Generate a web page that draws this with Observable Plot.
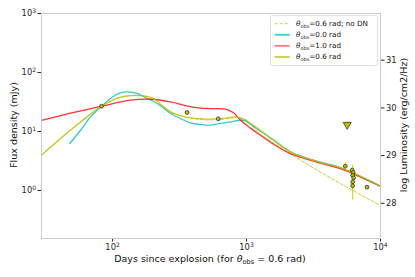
<!DOCTYPE html>
<html>
<head>
<meta charset="utf-8">
<script src="https://cdn.jsdelivr.net/npm/d3@7"></script>
<script src="https://cdn.jsdelivr.net/npm/@observablehq/plot@0.6"></script>
<style>
  html, body { margin: 0; padding: 0; background: white; }
</style>
</head>
<body>
<div id="chart"></div>
<script>
// ---- Model curves (days since explosion, flux density in mJy) ----
const noDnDays = [29.5, 40.9, 57.7, 82.8, 114.7, 161.7, 202, 228, 271, 321, 382, 454, 539, 640, 760, 842, 984, 1071, 1271, 1510, 2530, 5025, 10000];
const noDnFlux = [3.97, 7.61, 14.5, 26.8, 38.1, 40.7, 36.3, 29.0, 21.5, 18.5, 16.8, 16.0, 15.7, 16.0, 16.8, 17.3, 15.3, 13.3, 9.0, 6.85, 3.26, 1.31, 0.557];

const cyanDays = [48, 57.7, 68.5, 82.8, 96.6, 114.7, 128.7, 152.8, 181.6, 215.8, 271, 321, 382, 454, 539, 640, 760, 903, 984, 1071, 1271, 1510, 2130, 3565, 5025, 10000];
const cyanFlux = [6.26, 10.5, 17.7, 26.8, 36.3, 45.1, 46.9, 44.1, 36.3, 29.8, 20.2, 16.6, 14.0, 13.1, 12.8, 13.7, 14.5, 15.5, 15.1, 13.3, 10.1, 7.85, 4.54, 3.02, 2.45, 1.19];

const redDays = [29.5, 48.6, 82.8, 136, 192, 271, 363, 454, 540, 697, 800, 903, 1071, 1271, 1510, 2130, 3565, 5025, 10000];
const redFlux = [15.5, 20.4, 26.8, 33.9, 35.2, 31.7, 26.8, 24.8, 24.5, 23.9, 20.8, 15.5, 11.4, 8.65, 6.59, 4.2, 2.9, 2.34, 1.17];

const yelDays = [29.5, 40.9, 57.7, 82.8, 114.7, 161.7, 202, 228, 271, 321, 382, 454, 539, 640, 760, 842, 984, 1071, 1271, 1510, 2130, 3565, 5025, 10000];
const yelFlux = [3.97, 7.61, 14.5, 26.8, 38.1, 40.7, 36.3, 29.0, 21.5, 18.5, 17.0, 16.5, 16.2, 16.5, 17.3, 17.7, 15.8, 13.8, 10.5, 7.70, 4.46, 2.98, 2.43, 1.18];

// ---- Observations ----
const obsDays  = [82.8, 360, 615, 5460, 6150, 6250, 6200, 6300, 6200, 6200, 7925];
const obsFlux  = [26.8, 21.0, 16.4, 2.58, 2.21, 2.02, 1.82, 1.64, 1.40, 1.20, 1.14];
const obsLo    = [26.8, 21.0, 16.4, 2.21, 2.00, 1.80, 1.50, 1.40, 0.685, 1.00, 1.14];
const obsHi    = [26.8, 21.0, 16.4, 2.98, 2.45, 2.25, 2.68, 1.90, 2.10, 1.45, 1.14];
const limDays  = [5640];
const limFlux  = [12.6];

// ---- Axis ticks ----
const xTicks = [100, 1000, 10000];
const yTicks = [1, 10, 100, 1000];
const lumTicks = [28, 29, 30, 31];
// luminosity axis: log10(F) = LUM_A + LUM_B * (L - 30)
const LUM_A = 1.40, LUM_B = 0.8085;

const labels = ["θobs=0.6 rad; no DN", "θobs=0.0 rad", "θobs=1.0 rad", "θobs=0.6 rad"];
const colors = {noDn: "#bfbf00", cyan: "#00bfbf", red: "#ff0000", yel: "#bfbf00"};

const toRows = (days, flux) => days.map((d, i) => ({day: d, flux: flux[i]}));
const noDn = toRows(noDnDays, noDnFlux);
const cyan = toRows(cyanDays, cyanFlux);
const red = toRows(redDays, redFlux);
const yel = toRows(yelDays, yelFlux);
const obs = obsDays.map((d, i) => ({day: d, flux: obsFlux[i], lo: obsLo[i], hi: obsHi[i]}));
const lims = limDays.map((d, i) => ({day: d, flux: limFlux[i]}));

// tick labels as "10^n", turned into real superscripts after rendering
const fmtPow = d => "10^" + Math.round(Math.log10(d));
const lumAxis = lumTicks.map(L => ({flux: Math.pow(10, LUM_A + LUM_B * (L - 30)), label: String(L)}));

const triDown = {
  draw(ctx, size) {
    const r = Math.sqrt(size / Math.PI);
    ctx.moveTo(-r, -0.8 * r);
    ctx.lineTo(r, -0.8 * r);
    ctx.lineTo(0, 0.95 * r);
    ctx.closePath();
  }
};

const lineOpts = (stroke, extra = {}) => ({x: "day", y: "flux", stroke, strokeOpacity: 0.8, strokeWidth: 1.3, curve: "catmull-rom", ...extra});

const chart = Plot.plot({
  width: 415,
  height: 277,
  marginLeft: 41,
  marginRight: 35,
  marginTop: 13,
  marginBottom: 39,
  style: {fontFamily: "DejaVu Sans", fontSize: "8.3px", color: "#262626", background: "white", overflow: "visible"},
  x: {type: "log", domain: [29.5, 10000]},
  y: {type: "log", domain: [0.1535, 1000]},
  marks: [
    Plot.axisX(xTicks, {tickFormat: fmtPow, tickSize: 3.5, tickPadding: 2, label: null}),
    Plot.axisY(yTicks, {tickFormat: fmtPow, tickSize: 3.5, tickPadding: 2, label: null}),
    Plot.axisY(lumAxis, {y: "flux", text: "label", anchor: "right", tickSize: 3.5, tickPadding: 2, label: null}),
    Plot.line(noDn, lineOpts(colors.noDn, {strokeDasharray: "3,2", strokeWidth: 1})),
    Plot.line(cyan, lineOpts(colors.cyan)),
    Plot.line(red, lineOpts(colors.red)),
    Plot.line(yel, lineOpts(colors.yel)),
    Plot.ruleX(obs, {x: "day", y1: "lo", y2: "hi", stroke: "#d0d000", strokeWidth: 1}),
    Plot.dot(obs, {x: "day", y: "flux", r: 1.9, fill: "#bfbf00", stroke: "#333", strokeWidth: 0.8}),
    Plot.dot(lims, {x: "day", y: "flux", r: 4, symbol: triDown, fill: "#bfbf00", stroke: "#333", strokeWidth: 0.8}),
    Plot.frame({stroke: "#cccccc"})
  ]
});

document.getElementById("chart").appendChild(chart);

const svg = d3.select(chart);
const FONT = "DejaVu Sans";

// ---- superscripts in the power-of-ten tick labels ----
svg.selectAll("text").each(function () {
  const t = d3.select(this);
  const s = this.textContent;
  const m = /^10\^(-?\d+)$/.exec(s);
  if (!m) return;
  const node = this.querySelector("tspan") ? d3.select(this.querySelector("tspan")) : t;
  node.text(null);
  node.append("tspan").text("10");
  node.append("tspan").attr("dy", "-0.45em").attr("font-size", "6px").text(m[1]);
});

// ---- Axis titles and legend (SVG text with subscripts) ----
function thetaText(sel, rest, size) {
  sel.append("tspan").attr("font-style", "italic").text("θ");
  sel.append("tspan").attr("dy", size * 0.22).attr("font-size", size * 0.7).text("obs");
  sel.append("tspan").attr("dy", -size * 0.22).text(rest);
}

const xl = svg.append("text")
  .attr("x", 210).attr("y", 262)
  .attr("text-anchor", "middle")
  .attr("font-family", FONT).attr("font-size", 9.5).attr("fill", "#111");
xl.append("tspan").text("Days since explosion (for ");
thetaText(xl, " = 0.6 rad)", 9.5);

svg.append("text")
  .attr("transform", "translate(17,125) rotate(-90)")
  .attr("text-anchor", "middle")
  .attr("font-family", FONT).attr("font-size", 9.5).attr("fill", "#111")
  .text("Flux density (mJy)");

svg.append("text")
  .attr("transform", "translate(407,125) rotate(-90)")
  .attr("text-anchor", "middle")
  .attr("font-family", FONT).attr("font-size", 9.5).attr("fill", "#111")
  .text("log Luminosity (erg/cm2/Hz)");

const leg = svg.append("g").attr("font-family", FONT).attr("font-size", 7.2).attr("fill", "#111").attr("text-anchor", "start");
leg.append("rect")
  .attr("x", 270.5).attr("y", 15.5).attr("width", 107).attr("height", 50)
  .attr("rx", 2).attr("fill", "white").attr("fill-opacity", 0.8)
  .attr("stroke", "#d8d8d8").attr("stroke-width", 0.8);
const legStyles = [
  {c: colors.noDn, w: 1, dash: "3,2"},
  {c: colors.cyan, w: 2, dash: null},
  {c: colors.red, w: 1.3, dash: null},
  {c: colors.yel, w: 2, dash: null}
];
labels.forEach((lab, i) => {
  const cy = 23.7 + i * 11.1;
  const s = legStyles[i];
  const ln = leg.append("line")
    .attr("x1", 274.7).attr("x2", 289.7).attr("y1", cy).attr("y2", cy)
    .attr("stroke", s.c).attr("stroke-opacity", 0.7).attr("stroke-width", s.w);
  if (s.dash) ln.attr("stroke-dasharray", s.dash);
  const t = leg.append("text").attr("x", 296).attr("y", cy + 2.3).attr("text-anchor", "start");
  thetaText(t, lab.replace("θobs", ""), 7.2);
});
</script>
</body>
</html>
